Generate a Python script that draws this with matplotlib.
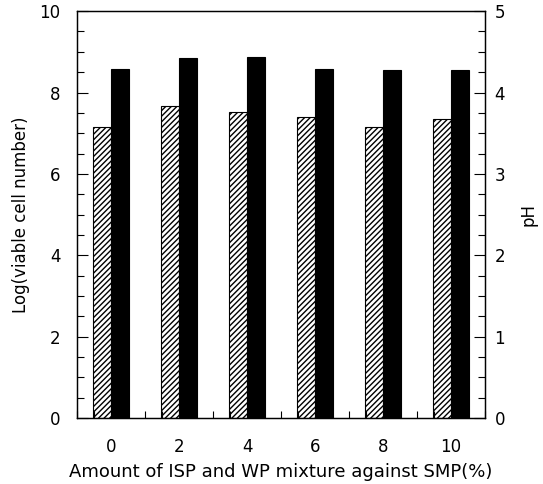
import matplotlib
matplotlib.use("Agg")
import matplotlib.pyplot as plt
import numpy as np

# data
amounts = ["0", "2", "4", "6", "8", "10"]
log_viable = [7.16, 7.66, 7.52, 7.40, 7.16, 7.34]
ph_values = [4.29, 4.42, 4.44, 4.29, 4.28, 4.28]

plt.rcParams['font.family'] = ['DejaVu Sans']
plt.rcParams['hatch.linewidth'] = 1.0


def main():
    fig = plt.figure(facecolor='w', figsize=(5.43, 4.84), dpi=100)
    ax = fig.add_axes([0.142, 0.136, 0.751, 0.841])
    ax2 = ax.twinx()

    x = np.arange(len(amounts))
    w = 0.26
    ax.bar(x - w / 2, log_viable, width=w, facecolor='white', edgecolor='black',
           hatch='//////', linewidth=0.8)
    ax2.bar(x + w / 2, ph_values, width=w, color='black', edgecolor='black',
            linewidth=0.8)

    ax.set_xlim(-0.5, 5.5)
    ax.set_ylim(0, 10)
    ax2.set_ylim(0, 5)

    ax.set_xticks(x)
    ax.set_xticklabels(amounts)
    ax.set_xticks(np.arange(-0.5, 5.51, 0.25), minor=True)
    ax.set_yticks(np.arange(0, 10.1, 2))
    ax.set_yticks(np.arange(0, 10.1, 0.5), minor=True)
    ax2.set_yticks(np.arange(0, 5.1, 1))
    ax2.set_yticks(np.arange(0, 5.1, 0.25), minor=True)

    ax.tick_params(axis='both', which='major', direction='in', length=8,
                   width=0.8, labelsize=12)
    ax.tick_params(axis='y', which='major', pad=12)
    ax.tick_params(axis='x', which='major', pad=14, length=0)
    ax.tick_params(axis='both', which='minor', direction='in', length=5,
                   width=0.8)
    ax2.tick_params(axis='y', which='major', direction='in', length=8,
                    width=0.8, labelsize=12, pad=7)
    ax2.tick_params(axis='y', which='minor', direction='in', length=5,
                    width=0.8)

    for a in (ax, ax2):
        for s in a.spines.values():
            s.set_linewidth(0.9)

    ax.set_xlabel("Amount of ISP and WP mixture against SMP(%)", fontsize=13,
                  labelpad=5)
    ax.set_ylabel("Log(viable cell number)", fontsize=12, labelpad=7)
    ax2.set_ylabel("pH", fontsize=12, labelpad=10)

    fig.savefig("out.png", dpi=100)


if __name__ == "__main__":
    main()
